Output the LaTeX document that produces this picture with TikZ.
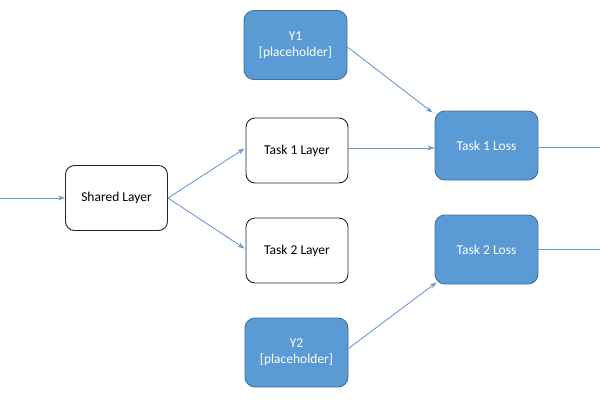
\documentclass[tikz,border=0pt]{standalone}
\usepackage{fontspec}
\setmainfont{Carlito}
\usetikzlibrary{arrows.meta,calc}
\definecolor{fillblue}{HTML}{5B9BD5}
\definecolor{edgeblue}{HTML}{41719C}
\definecolor{lineblue}{HTML}{6A9BD0}
\begin{document}
\begin{tikzpicture}[x=1pt,y=-1pt,
  whitebox/.style={draw=black!85,line width=0.9pt,rounded corners=9pt,fill=white,
    minimum width=102pt,minimum height=65pt,align=center,font=\fontsize{13.5}{15}\selectfont},
  bluebox/.style={draw=edgeblue,line width=0.9pt,rounded corners=10pt,fill=fillblue,text=white,
    minimum width=103pt,minimum height=69pt,align=center,font=\fontsize{13.5}{16}\selectfont},
  conn/.style={draw=lineblue,line width=0.9pt,-{Stealth[length=7pt,width=5pt]}},
  plain/.style={draw=lineblue,line width=0.9pt}]
\useasboundingbox (0,0) rectangle (600,400);
\node[whitebox] (sh) at (116.5,198) {Shared Layer};
\node[whitebox] (t1) at (297,150.5) {Task 1 Layer};
\node[whitebox] (t2) at (297,250.5) {Task 2 Layer};
\node[bluebox] (y1) at (295.5,45) {Y1\\{}[placeholder]};
\node[bluebox] (y2) at (296.5,352.5) {Y2\\{}[placeholder]};
\node[bluebox] (l1) at (486.5,145.5) {Task 1 Loss};
\node[bluebox] (l2) at (486.5,249.5) {Task 2 Loss};
\coordinate (in) at (0,198);
\coordinate (o1) at (600,147);
\coordinate (o2) at (600,249.5);
\coordinate (a1) at ($(t1.east)+(0,-2.5)$);
\draw[conn] (in) -- (sh.west);
\draw[conn] (sh.east) -- ($(t1.west)+(-1,-2)$);
\draw[conn] (sh.east) -- ($(t2.west)+(-1,-2)$);
\draw[conn] (a1) -- (a1 -| l1.west);
\draw[conn] ($(y1.east)+(0,2)$) -- ($(l1.north west)+(-2,2)$);
\draw[conn] ($(y2.east)+(0,-4)$) -- ($(l2.south west)+(2,-2)$);
\draw[plain] (o1 -| l1.east) -- (o1);
\draw[plain] (l2.east) -- (o2);
\end{tikzpicture}
\end{document}
